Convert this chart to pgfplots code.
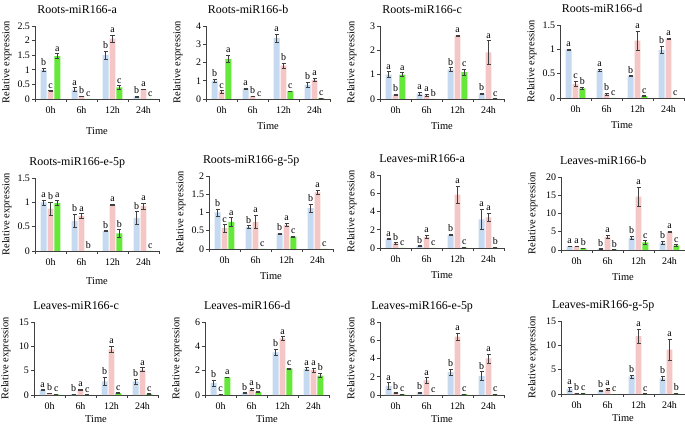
\documentclass[border=0pt]{standalone}
\usepackage{pgfplots}
\usepackage{pgfplotstable}
\pgfplotsset{compat=1.18}
\usepackage{fontspec}
\setmainfont{Liberation Serif}
\newfontfamily\tnr{Liberation Serif}
\definecolor{cb}{HTML}{C5D9F1}
\definecolor{cp}{HTML}{F4C6C6}
\definecolor{cg}{HTML}{66E83A}

\pgfplotstableread{
t b be bl p pe pl g ge gl
0 1.00 0.06 b 0.27 0.02 c 1.47 0.08 a
1 0.32 0.07 a 0.10 0.01 b 0.00 0.00 c
2 1.50 0.13 b 2.07 0.12 a 0.40 0.06 c
3 0.08 0.01 b 0.34 0.01 a 0.00 0.00 c
}\tabA
\pgfplotstableread{
t b be bl p pe pl g ge gl
0 1.00 0.08 b 0.40 0.06 c 2.20 0.20 a
1 0.58 0.02 a 0.15 0.02 b 0.00 0.00 c
2 3.35 0.22 a 1.83 0.12 b 0.43 0.02 c
3 0.78 0.15 b 1.05 0.10 a 0.05 0.01 c
}\tabB
\pgfplotstableread{
t b be bl p pe pl g ge gl
0 1.00 0.12 a 0.18 0.03 b 1.00 0.08 a
1 0.22 0.05 a 0.15 0.05 a 0.00 0.00 b
2 1.22 0.07 b 2.60 0.01 a 1.10 0.13 c
3 0.22 0.02 b 1.92 0.48 a 0.02 0.00 c
}\tabC
\pgfplotstableread{
t b be bl p pe pl g ge gl
0 1.00 0.01 a 0.29 0.05 c 0.20 0.03 b
1 0.57 0.02 a 0.08 0.02 b 0.00 0.00 c
2 0.45 0.01 b 1.18 0.19 a 0.04 0.01 c
3 0.99 0.07 b 1.22 0.01 a 0.00 0.00 c
}\tabD
\pgfplotstableread{
t b be bl p pe pl g ge gl
0 1.00 0.05 a 0.87 0.13 b 0.99 0.05 a
1 0.62 0.14 b 0.72 0.05 a 0.00 0.00 b
2 0.41 0.01 b 0.95 0.01 a 0.36 0.08 b
3 0.68 0.13 b 0.92 0.06 a 0.00 0.00 c
}\tabE
\pgfplotstableread{
t b be bl p pe pl g ge gl
0 1.00 0.10 b 0.57 0.10 c 0.74 0.12 a
1 0.60 0.04 b 0.74 0.18 a 0.00 0.00 c
2 0.42 0.01 b 0.66 0.04 a 0.34 0.02 c
3 1.12 0.10 b 1.55 0.06 a 0.00 0.00 c
}\tabF
\pgfplotstableread{
t b be bl p pe pl g ge gl
0 1.00 0.04 a 0.50 0.10 b 0.00 0.00 c
1 0.22 0.03 b 1.20 0.17 a 0.00 0.00 c
2 1.45 0.10 b 5.85 0.90 a 0.05 0.01 c
3 3.15 1.10 a 3.35 0.45 a 0.05 0.01 b
}\tabG
\pgfplotstableread{
t b be bl p pe pl g ge gl
0 1.00 0.10 a 1.00 0.10 a 0.50 0.05 b
1 0.30 0.05 b 3.60 0.50 a 0.10 0.02 b
2 3.40 0.50 b 14.60 2.60 a 2.10 0.50 c
3 2.00 0.50 b 5.00 0.20 a 1.30 0.20 c
}\tabH
\pgfplotstableread{
t b be bl p pe pl g ge gl
0 1.00 0.10 a 0.35 0.05 b 0.15 0.03 c
1 0.20 0.03 b 1.05 0.10 a 0.05 0.01 c
2 2.80 0.80 b 9.40 0.70 a 0.40 0.10 c
3 2.80 0.50 b 5.20 0.40 a 0.25 0.05 c
}\tabI
\pgfplotstableread{
t b be bl p pe pl g ge gl
0 1.00 0.25 b 0.07 0.01 c 1.47 0.03 a
1 0.17 0.02 b 0.45 0.10 a 0.25 0.02 b
2 3.50 0.25 b 4.65 0.15 a 2.18 0.03 c
3 2.15 0.10 a 2.05 0.15 a 1.60 0.17 b
}\tabJ
\pgfplotstableread{
t b be bl p pe pl g ge gl
0 1.00 0.35 a 0.25 0.05 b 0.07 0.01 c
1 0.25 0.05 b 1.60 0.30 a 0.00 0.00 c
2 2.50 0.30 b 6.40 0.35 a 0.10 0.02 c
3 2.10 0.45 b 4.00 0.50 a 0.05 0.01 c
}\tabK
\pgfplotstableread{
t b be bl p pe pl g ge gl
0 1.00 0.40 a 0.20 0.03 b 0.10 0.02 c
1 0.70 0.05 b 1.00 0.20 a 0.00 0.00 c
2 3.60 0.30 b 11.90 1.50 a 0.05 0.01 c
3 3.20 0.40 b 9.10 2.10 a 0.10 0.02 b
}\tabL

\pgfplotsset{
  panel/.style={
    scale only axis, width=124bp, height=73bp, anchor=south west,
    xmin=-0.5, xmax=3.5, ymin=0,
    axis x line*=bottom, axis y line*=left,
    axis line style={black!75, line width=0.6pt},
    xtick={-0.5,0.5,1.5,2.5,3.5}, x tick label as interval,
    xticklabels={0h,6h,12h,24h},
    tick align=outside, major tick length=3bp,
    tick style={black!75, line width=0.6pt},
    ticklabel style={font=\tnr\fontsize{10}{12}\selectfont},
    xticklabel style={yshift=-1.5bp},
    yticklabel style={xshift=1.5bp},
    /pgf/number format/assume math mode=true,
    ylabel={Relative expression}, xlabel={Time},
    ylabel style={at={(axis description cs:-0.226,0.5)}, anchor=center, font=\tnr\fontsize{10.5}{12}\selectfont},
    xlabel style={at={(axis description cs:0.5,0)}, anchor=center, yshift=-27bp, font=\tnr\fontsize{10.5}{12}\selectfont},
    title style={at={(axis description cs:0.34,1)}, anchor=base, yshift=7bp, font=\tnr\fontsize{12}{14}\selectfont},
    clip=false,
    error bars/error bar style={line width=0.5pt, black!75},
    error bars/error mark options={rotate=90, mark size=2bp, line width=0.5pt, black!75},
  },
  bars/.style={ybar, bar width=0.19, bar shift=0pt, draw=none, fill=#1,
    error bars/.cd, y dir=both, y explicit},
  lets/.style={draw=none, mark=none, nodes near coords, point meta=explicit symbolic,
    every node near coord/.style={anchor=south, inner sep=2.2bp, font=\tnr\fontsize{10}{12}\selectfont}},
  row3/.style={xlabel style={yshift=3bp}},
}

\newcommand{\panel}[7][]{%
\begin{axis}[panel, at={(#2bp,#3bp)}, title={#4}, ymax=#5, ytick={#6}, #1]
\addplot[bars=cb] table[x expr=\thisrow{t}-0.22, y=b, y error=be]{#7};
\addplot[bars=cp] table[x expr=\thisrow{t}, y=p, y error=pe]{#7};
\addplot[bars=cg] table[x expr=\thisrow{t}+0.22, y=g, y error=ge]{#7};
\addplot[lets] table[x expr=\thisrow{t}-0.22, y expr=\thisrow{b}+\thisrow{be}, meta=bl]{#7};
\addplot[lets] table[x expr=\thisrow{t}, y expr=\thisrow{p}+\thisrow{pe}, meta=pl]{#7};
\addplot[lets] table[x expr=\thisrow{t}+0.22, y expr=\thisrow{g}+\thisrow{ge}, meta=gl]{#7};
\end{axis}}

\begin{document}
\begin{tikzpicture}
\useasboundingbox (0bp,0bp) rectangle (685bp,428bp);
\panel[xlabel style={yshift=-5bp}]{35}{329}{Roots-miR166-a}{2.5}{0,0.5,1,1.5,2,2.5}{\tabA}
\panel{206}{329}{Roots-miR166-b}{4}{0,1,2,3,4}{\tabB}
\panel{380}{329}{Roots-miR166-c}{3}{0,1,2,3}{\tabC}
\panel{560}{330}{Roots-miR166-d}{1.5}{0,0.5,1,1.5}{\tabD}
\panel[xlabel style={yshift=-3bp}]{35}{177}{Roots-miR166-e-5p}{1.5}{0,0.5,1,1.5}{\tabE}
\panel{209}{179}{Roots-miR166-g-5p}{2}{0,0.5,1,1.5,2}{\tabF}
\panel{380}{180}{Leaves-miR166-a}{8}{0,2,4,6,8}{\tabG}
\panel{561}{178}{Leaves-miR166-b}{20}{0,5,10,15,20}{\tabH}
\panel[row3]{34}{33}{Leaves-miR166-c}{15}{0,5,10,15}{\tabI}
\panel[row3]{205}{33}{Leaves-miR166-d}{6}{0,2,4,6}{\tabJ}
\panel[row3]{380}{33}{Leaves-miR166-e-5p}{8}{0,2,4,6,8}{\tabK}
\panel[row3]{561}{34}{Leaves-miR166-g-5p}{15}{0,5,10,15}{\tabL}
\end{tikzpicture}
\end{document}
